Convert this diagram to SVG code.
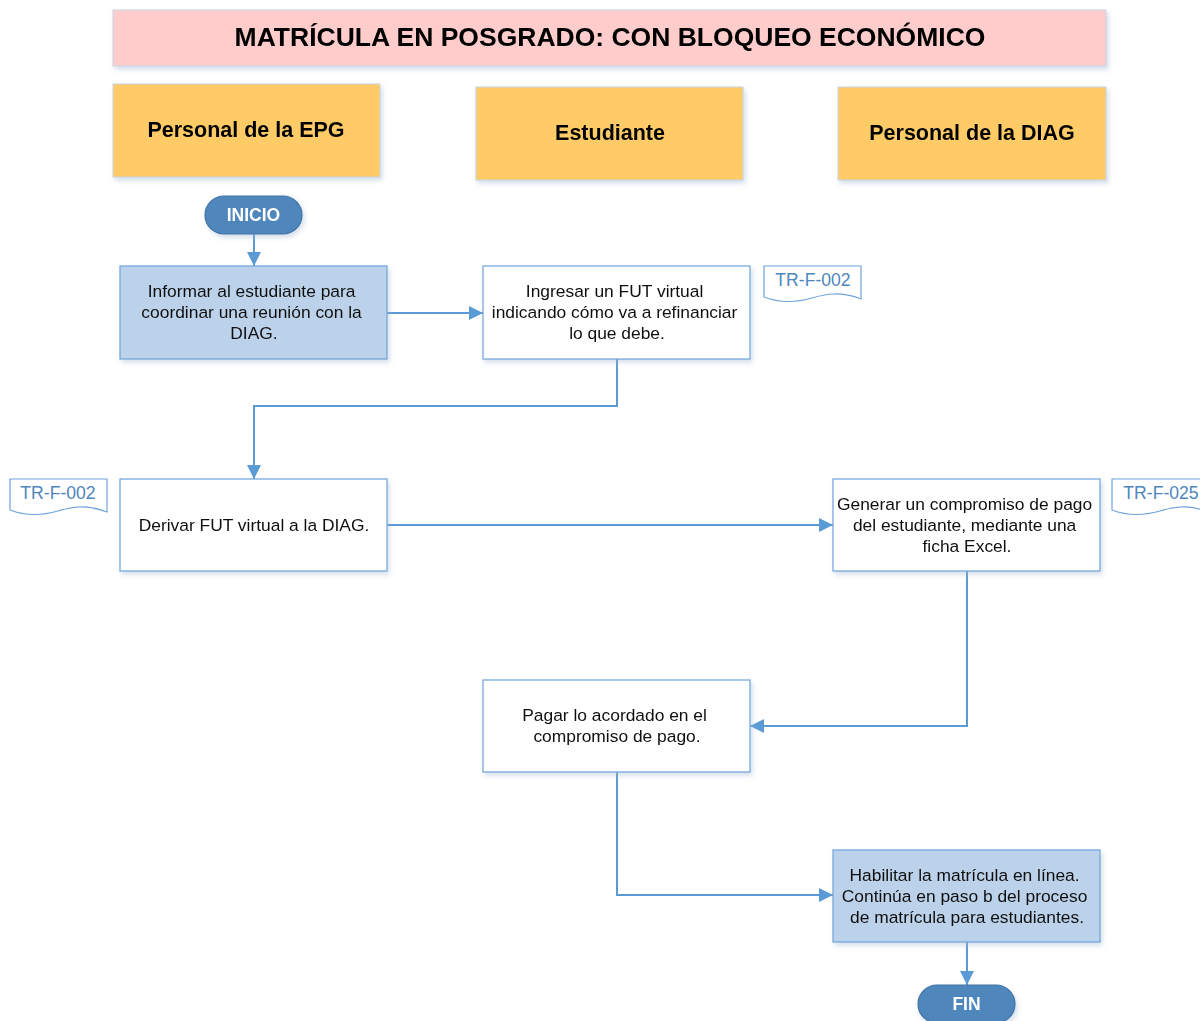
<svg xmlns="http://www.w3.org/2000/svg" width="1200" height="1021" viewBox="0 0 1200 1021">
  <style>
    .title { font-family: "Liberation Sans", Arial, sans-serif; font-weight: bold; font-size: 26.5px; fill: #000; }
    .lane { font-family: "Liberation Sans", Arial, sans-serif; font-weight: bold; font-size: 21.5px; fill: #000; }
    .txt { font-family: "Liberation Sans", Arial, sans-serif; font-size: 17.4px; fill: #111; }
    .term { font-family: "Liberation Sans", Arial, sans-serif; font-weight: bold; font-size: 17.5px; fill: #fff; }
    .doc { font-family: "Liberation Sans", Arial, sans-serif; font-size: 17.6px; fill: #4F86BC; }
    .laneBox { fill: #FECB66; stroke: #C9D3E2; stroke-width: 1; }
    .proc { fill: #fff; stroke: #6FA3DA; stroke-width: 1.2; }
    .procBlue { fill: #BCD2EA; stroke: #6FA3DA; stroke-width: 1.2; }
    .pill { fill: #4F86BC; stroke: #3F73A6; stroke-width: 1.2; }
    .docShape { fill: #fff; stroke: #6FA3DA; stroke-width: 1.2; }
    .conn { fill: none; stroke: #5B9BD5; stroke-width: 2; }
  </style>
  <defs>
    <filter id="shadow" x="-10%" y="-10%" width="130%" height="140%">
      <feDropShadow dx="2" dy="3" stdDeviation="2.5" flood-color="#9FB6D0" flood-opacity="0.45"/>
    </filter>
    <marker id="arrowBig" viewBox="0 0 10 10" refX="10" refY="5" markerWidth="14" markerHeight="14" markerUnits="userSpaceOnUse" orient="auto">
      <path d="M0,0 L10,5 L0,10 z" fill="#5B9BD5"/>
    </marker>
  </defs>

  <rect width="1200" height="1021" fill="#fff"/>

  <!-- Title -->
  <g id="title" filter="url(#shadow)">
    <rect x="113" y="10" width="993" height="56" fill="#FFCCCC" stroke="#C9D3E2"/>
    <text class="title" x="610" y="46" text-anchor="middle">MATRÍCULA EN POSGRADO: CON BLOQUEO ECONÓMICO</text>
  </g>

  <!-- Lane headers -->
  <g id="lane-epg" filter="url(#shadow)">
    <rect class="laneBox" x="113" y="84" width="267" height="93"/>
    <text class="lane" x="246" y="137" text-anchor="middle">Personal de la EPG</text>
  </g>
  <g id="lane-estudiante" filter="url(#shadow)">
    <rect class="laneBox" x="476" y="87" width="267" height="93"/>
    <text class="lane" x="610" y="140" text-anchor="middle">Estudiante</text>
  </g>
  <g id="lane-diag" filter="url(#shadow)">
    <rect class="laneBox" x="838" y="87" width="268" height="93"/>
    <text class="lane" x="972" y="140" text-anchor="middle">Personal de la DIAG</text>
  </g>

  <!-- Connectors -->
  <g id="connectors">
    <path class="conn" d="M254,234 L254,266" marker-end="url(#arrowBig)"/>
    <path class="conn" d="M387,313 L483,313" marker-end="url(#arrowBig)"/>
    <path class="conn" d="M617,359 L617,406 L254,406 L254,479" marker-end="url(#arrowBig)"/>
    <path class="conn" d="M387,525 L833,525" marker-end="url(#arrowBig)"/>
    <path class="conn" d="M967,571 L967,726 L750,726" marker-end="url(#arrowBig)"/>
    <path class="conn" d="M617,772 L617,895 L833,895" marker-end="url(#arrowBig)"/>
    <path class="conn" d="M967,942 L967,985" marker-end="url(#arrowBig)"/>
  </g>

  <!-- Start -->
  <g id="inicio" filter="url(#shadow)">
    <rect class="pill" x="205" y="196" width="97" height="38" rx="19"/>
    <text class="term" x="253.5" y="221" text-anchor="middle">INICIO</text>
  </g>

  <!-- Step: inform student -->
  <g id="informar" filter="url(#shadow)">
    <rect class="procBlue" x="120" y="266" width="267" height="93"/>
    <text class="txt" text-anchor="middle">
      <tspan x="254" y="297">Informar al estudiante para</tspan>
      <tspan x="254" y="318">coordinar una reunión con la</tspan>
      <tspan x="254" y="339">DIAG.</tspan>
    </text>
  </g>

  <!-- Step: virtual FUT -->
  <g id="ingresar-fut" filter="url(#shadow)">
    <rect class="proc" x="483" y="266" width="267" height="93"/>
    <text class="txt" text-anchor="middle">
      <tspan x="617" y="297">Ingresar un FUT virtual</tspan>
      <tspan x="617" y="318">indicando cómo va a refinanciar</tspan>
      <tspan x="617" y="339">lo que debe.</tspan>
    </text>
  </g>

  <!-- Document TR-F-002 (student lane) -->
  <g id="doc-trf002-a">
    <path class="docShape" d="M764,266 L861,266 L861,299 C840,291 825,294 812,298 C798,302 782,304 764,297 Z"/>
    <text class="doc" x="813" y="286" text-anchor="middle">TR-F-002</text>
  </g>

  <!-- Step: forward FUT -->
  <g id="derivar-fut" filter="url(#shadow)">
    <rect class="proc" x="120" y="479" width="267" height="92"/>
    <text class="txt" x="254" y="531" text-anchor="middle">Derivar FUT virtual a la DIAG.</text>
  </g>

  <!-- Document TR-F-002 (EPG lane) -->
  <g id="doc-trf002-b">
    <path class="docShape" d="M10,479 L107,479 L107,512 C86,504 71,507 58,511 C44,515 28,517 10,510 Z"/>
    <text class="doc" x="58" y="499" text-anchor="middle">TR-F-002</text>
  </g>

  <!-- Step: payment commitment -->
  <g id="compromiso" filter="url(#shadow)">
    <rect class="proc" x="833" y="479" width="267" height="92"/>
    <text class="txt" text-anchor="middle">
      <tspan x="967" y="510">Generar un compromiso de pago</tspan>
      <tspan x="967" y="531">del estudiante, mediante una</tspan>
      <tspan x="967" y="552">ficha Excel.</tspan>
    </text>
  </g>

  <!-- Document TR-F-025 -->
  <g id="doc-trf025">
    <path class="docShape" d="M1112,479 L1209,479 L1209,512 C1188,504 1173,507 1160,511 C1146,515 1130,517 1112,510 Z"/>
    <text class="doc" x="1161" y="499" text-anchor="middle">TR-F-025</text>
  </g>

  <!-- Step: pay -->
  <g id="pagar" filter="url(#shadow)">
    <rect class="proc" x="483" y="680" width="267" height="92"/>
    <text class="txt" text-anchor="middle">
      <tspan x="617" y="721">Pagar lo acordado en el</tspan>
      <tspan x="617" y="742">compromiso de pago.</tspan>
    </text>
  </g>

  <!-- Step: enable enrollment -->
  <g id="habilitar" filter="url(#shadow)">
    <rect class="procBlue" x="833" y="850" width="267" height="92"/>
    <text class="txt" text-anchor="middle">
      <tspan x="967" y="881">Habilitar la matrícula en línea.</tspan>
      <tspan x="967" y="902">Continúa en paso b del proceso</tspan>
      <tspan x="967" y="923">de matrícula para estudiantes.</tspan>
    </text>
  </g>

  <!-- End -->
  <g id="fin" filter="url(#shadow)">
    <rect class="pill" x="918" y="985" width="97" height="38" rx="19"/>
    <text class="term" x="966.5" y="1010" text-anchor="middle">FIN</text>
  </g>
</svg>
